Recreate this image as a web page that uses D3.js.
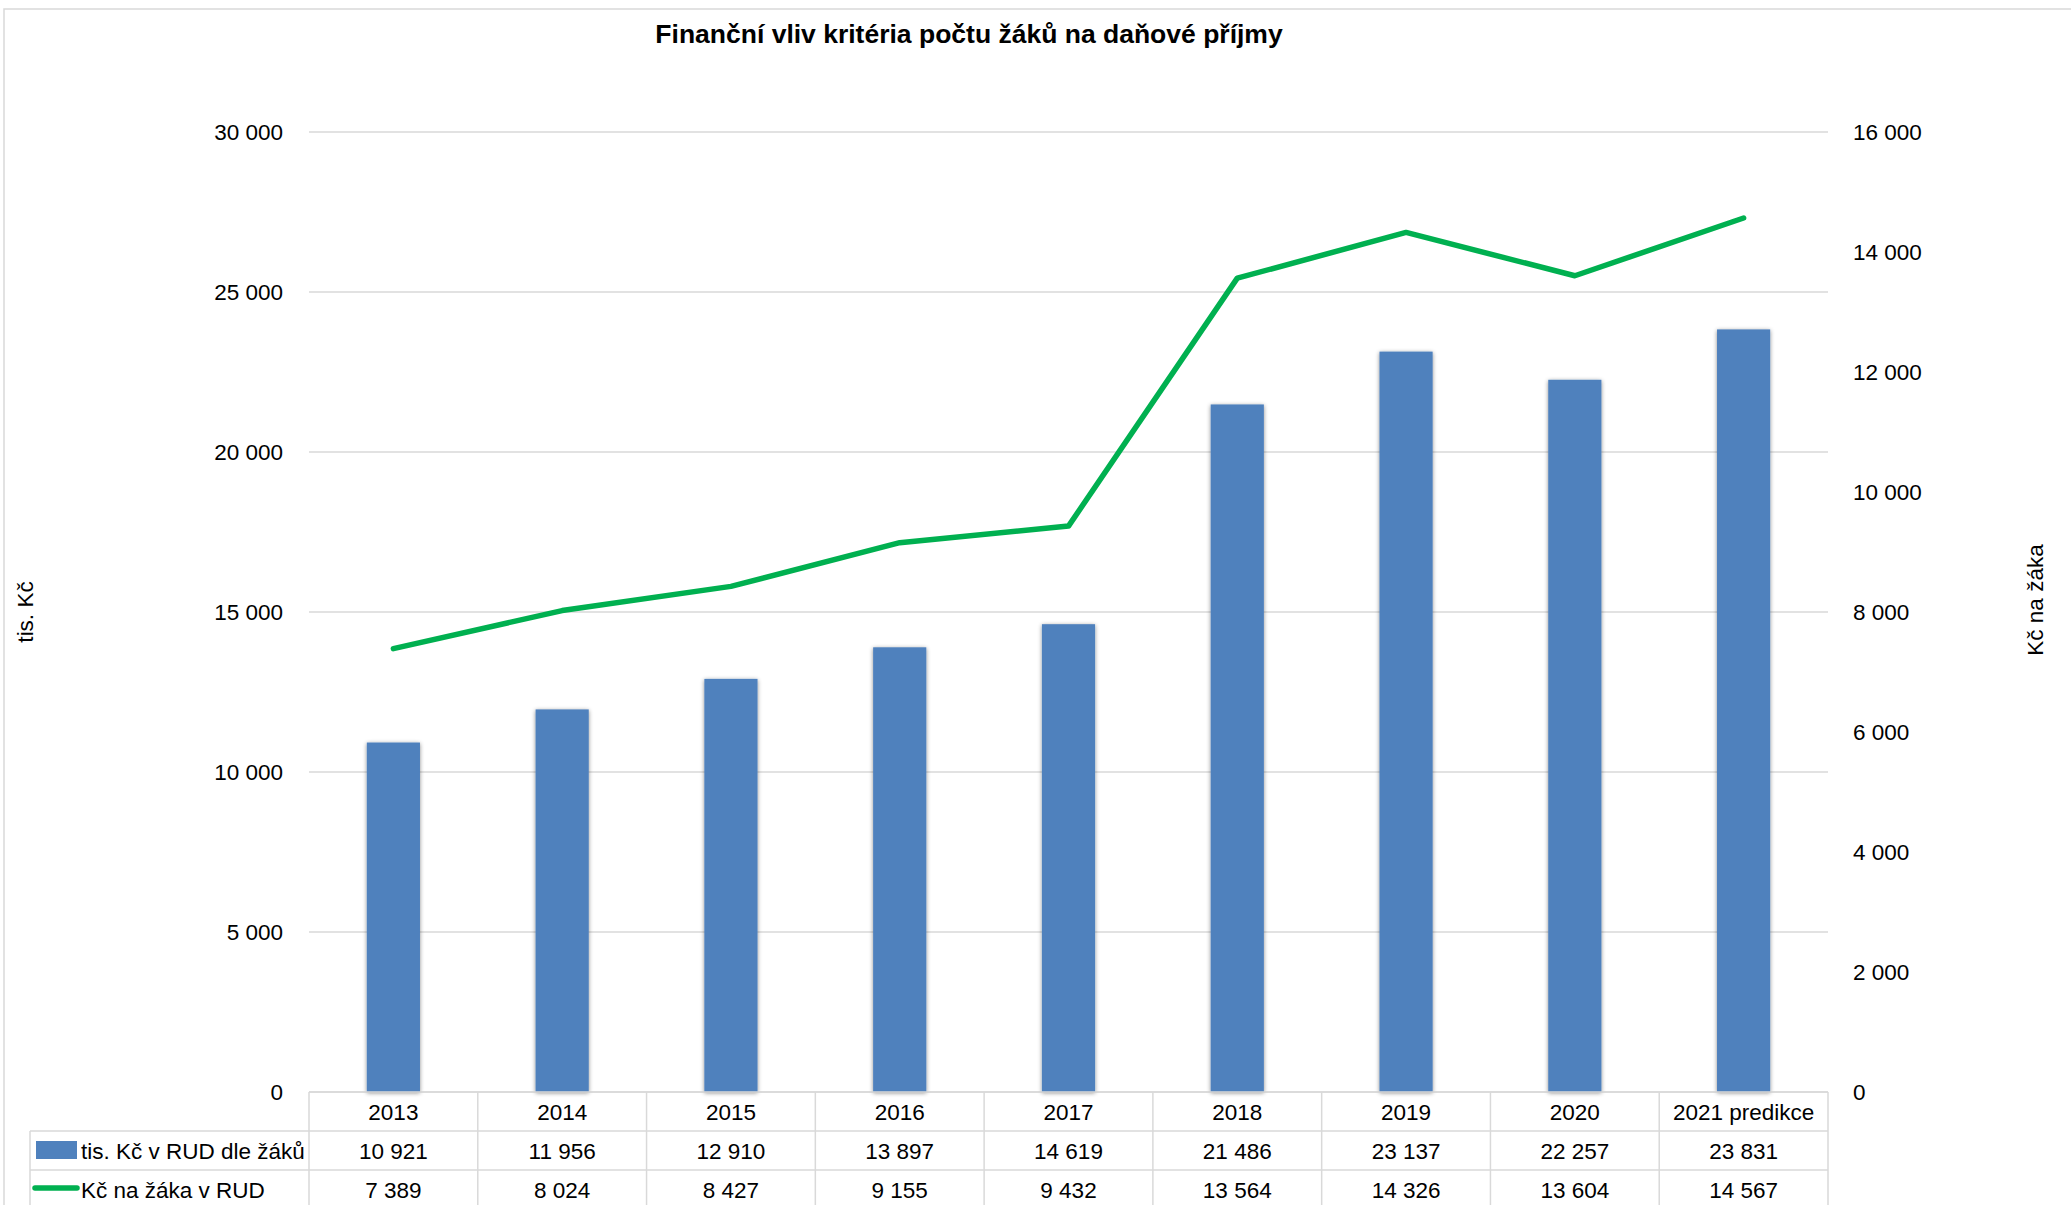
<!DOCTYPE html>
<html>
<head>
<meta charset="utf-8">
<script src="https://cdn.jsdelivr.net/npm/d3@7/dist/d3.min.js"></script>
<style>
  body { margin: 0; background: #fff; }
  text { font-family: "Liberation Sans", Arial, sans-serif; fill: #000; }
</style>
</head>
<body>
<svg id="chart" width="2071" height="1205"></svg>
<script>
const title = "Finanční vliv kritéria počtu žáků na daňové příjmy";
const categories = ["2013", "2014", "2015", "2016", "2017", "2018", "2019", "2020", "2021 predikce"];
const barSeriesName = "tis. Kč v RUD dle žáků";
const barValues = [10921, 11956, 12910, 13897, 14619, 21486, 23137, 22257, 23831];
const lineSeriesName = "Kč na žáka v RUD";
const lineValues = [7389, 8024, 8427, 9155, 9432, 13564, 14326, 13604, 14567];
const leftTicks = [0, 5000, 10000, 15000, 20000, 25000, 30000];
const rightTicks = [0, 2000, 4000, 6000, 8000, 10000, 12000, 14000, 16000];
const leftTitle = "tis. Kč";
const rightTitle = "Kč na žáka";

const svg = d3.select("#chart");
const W = 2071, H = 1205;
const plot = { left: 309, right: 1828, top: 132, bottom: 1092 };
const gridColor = "#D9D9D9";
const barColor = "#4F81BD";
const lineColor = "#00B050";
const fmt = v => d3.format(",")(v).replace(/,/g, "\u00A0");

// outer frame
svg.append("rect").attr("x", 4).attr("y", 9).attr("width", W + 20).attr("height", H + 20)
  .attr("fill", "none").attr("stroke", gridColor).attr("stroke-width", 1.5);

const defs = svg.append("defs");
const f = defs.append("filter").attr("id", "shadow").attr("x", "-30%").attr("y", "-5%").attr("width", "160%").attr("height", "110%");
f.append("feDropShadow").attr("dx", 0).attr("dy", 1).attr("stdDeviation", 2.2)
  .attr("flood-color", "#000").attr("flood-opacity", 0.45);

const x = d3.scaleBand().domain(categories).range([plot.left, plot.right]).paddingInner(0).paddingOuter(0);
const yL = d3.scaleLinear().domain([0, 30000]).range([plot.bottom, plot.top]);
const yR = d3.scaleLinear().domain([0, 16000]).range([plot.bottom, plot.top]);

// gridlines
svg.append("g").selectAll("line").data(leftTicks).join("line")
  .attr("x1", plot.left).attr("x2", plot.right)
  .attr("y1", d => yL(d)).attr("y2", d => yL(d))
  .attr("stroke", gridColor).attr("stroke-width", 1.5);

// left axis labels
const axisL = d3.axisLeft(yL).tickValues(leftTicks).tickFormat(fmt).tickSize(0).tickPadding(0);
const gL = svg.append("g").attr("transform", `translate(283,0)`).call(axisL);
gL.select(".domain").remove();
gL.selectAll("text").attr("font-size", 22.5).attr("font-family", "Liberation Sans, Arial, sans-serif").attr("fill", "#000");

// right axis labels
const axisR = d3.axisRight(yR).tickValues(rightTicks).tickFormat(fmt).tickSize(0).tickPadding(0);
const gR = svg.append("g").attr("transform", `translate(1853,0)`).call(axisR);
gR.select(".domain").remove();
gR.selectAll("text").attr("font-size", 22.5).attr("font-family", "Liberation Sans, Arial, sans-serif").attr("fill", "#000");

// bars
const bw = x.bandwidth() * 0.315;
svg.append("g").selectAll("rect").data(barValues).join("rect")
  .attr("x", (d, i) => x(categories[i]) + x.bandwidth() / 2 - bw / 2)
  .attr("width", bw)
  .attr("y", d => yL(d))
  .attr("height", d => yL(0) - yL(d))
  .attr("fill", barColor)
  .attr("filter", "url(#shadow)");

// line
const line = d3.line().x((d, i) => x(categories[i]) + x.bandwidth() / 2).y(d => yR(d));
svg.append("path").datum(lineValues).attr("d", line)
  .attr("fill", "none").attr("stroke", lineColor).attr("stroke-width", 5.5)
  .attr("stroke-linejoin", "round").attr("stroke-linecap", "round");

// title
svg.append("text").attr("x", 969).attr("y", 43).attr("text-anchor", "middle")
  .attr("font-size", 26.5).attr("font-weight", "bold").text(title);

// axis titles
svg.append("text").attr("transform", `translate(33,612) rotate(-90)`).attr("text-anchor", "middle")
  .attr("font-size", 22.5).text(leftTitle);
svg.append("text").attr("transform", `translate(2043,600) rotate(-90)`).attr("text-anchor", "middle")
  .attr("font-size", 22.5).text(rightTitle);

// data table
const rowY = [1092, 1131, 1170, 1209];
const tableLeft = 30;
const tg = svg.append("g");
tg.append("line").attr("x1", plot.left).attr("x2", plot.right).attr("y1", rowY[0]).attr("y2", rowY[0])
  .attr("stroke", gridColor).attr("stroke-width", 1.5);
[rowY[1], rowY[2]].forEach(yy => {
  tg.append("line").attr("x1", tableLeft).attr("x2", plot.right).attr("y1", yy).attr("y2", yy)
    .attr("stroke", gridColor).attr("stroke-width", 1.5);
});
const bounds = categories.map(c => x(c)).concat([plot.right]);
tg.selectAll("line.v").data(bounds).join("line").attr("class", "v")
  .attr("x1", d => d).attr("x2", d => d).attr("y1", rowY[0]).attr("y2", H)
  .attr("stroke", gridColor).attr("stroke-width", 1.5);
tg.append("line").attr("x1", tableLeft).attr("x2", tableLeft).attr("y1", rowY[1]).attr("y2", H)
  .attr("stroke", gridColor).attr("stroke-width", 1.5);

const fs = 22.5;
tg.selectAll("text.h").data(categories).join("text").attr("class", "h")
  .attr("x", d => x(d) + x.bandwidth() / 2).attr("y", (rowY[0] + rowY[1]) / 2 + 8)
  .attr("text-anchor", "middle").attr("font-size", fs).text(d => d);
tg.selectAll("text.b").data(barValues).join("text").attr("class", "b")
  .attr("x", (d, i) => x(categories[i]) + x.bandwidth() / 2).attr("y", (rowY[1] + rowY[2]) / 2 + 8)
  .attr("text-anchor", "middle").attr("font-size", fs).text(d => fmt(d));
tg.selectAll("text.l").data(lineValues).join("text").attr("class", "l")
  .attr("x", (d, i) => x(categories[i]) + x.bandwidth() / 2).attr("y", (rowY[2] + rowY[3]) / 2 + 8)
  .attr("text-anchor", "middle").attr("font-size", fs).text(d => fmt(d));

// legend keys
tg.append("rect").attr("x", 36).attr("y", 1141).attr("width", 41).attr("height", 18).attr("fill", barColor);
tg.append("text").attr("x", 81).attr("y", (rowY[1] + rowY[2]) / 2 + 8).attr("font-size", fs).text(barSeriesName);
tg.append("line").attr("x1", 35).attr("x2", 77).attr("y1", 1188).attr("y2", 1188)
  .attr("stroke", lineColor).attr("stroke-width", 5.5).attr("stroke-linecap", "round");
tg.append("text").attr("x", 81).attr("y", (rowY[2] + rowY[3]) / 2 + 8).attr("font-size", fs).text(lineSeriesName);
</script>
</body>
</html>
